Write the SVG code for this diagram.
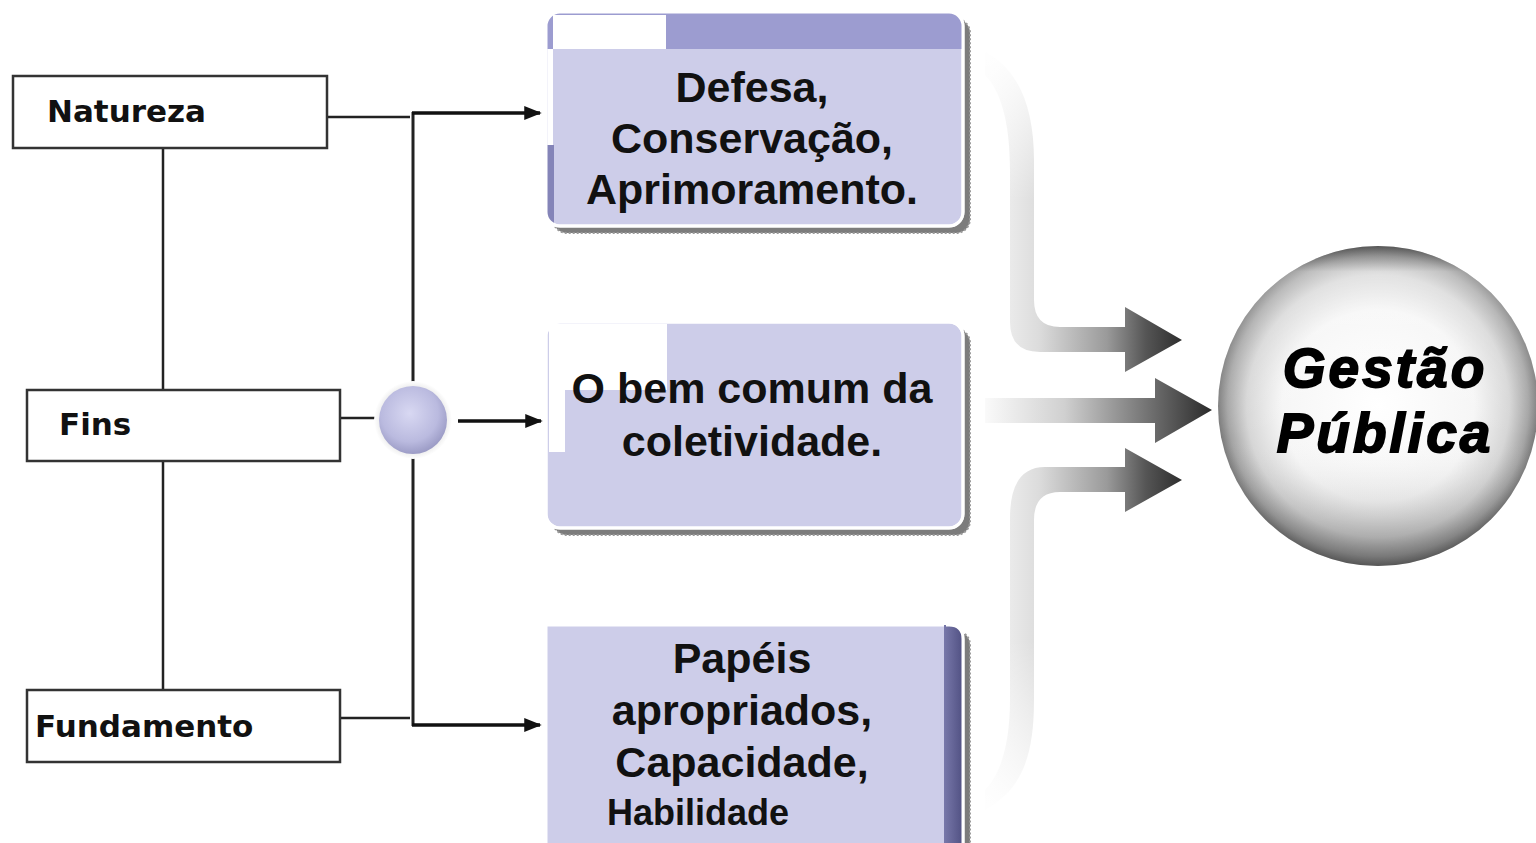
<svg xmlns="http://www.w3.org/2000/svg" width="1536" height="843" viewBox="0 0 1536 843">
<style>
.lbox{fill:#fff;stroke:#333;stroke-width:2.5}
.ltxt{font-family:"DejaVu Sans",Verdana,sans-serif;font-weight:bold;font-size:31px;fill:#111}
.btxt{font-family:"Liberation Sans",Arial,sans-serif;font-weight:bold;font-size:43px;fill:#111;text-anchor:middle}
.ln{stroke:#222;stroke-width:2.5;fill:none}
.arr{stroke:#111;stroke-width:3.5;fill:none;marker-end:url(#ah)}
.shadow{fill:#7c7c7c;stroke:#999;stroke-width:2;stroke-dasharray:2 2}
.box{fill:#cdcde9;stroke:#fff;stroke-width:3}
.band{fill:url(#bandg)}
.gtxt{font-family:"Liberation Sans",Arial,sans-serif;font-weight:bold;font-style:italic;font-size:55px;fill:#000;stroke:#000;stroke-width:1.8;letter-spacing:3px;text-anchor:middle}
</style>
<defs>
<marker id="ah" viewBox="0 0 10 10" refX="9" refY="5" markerWidth="5" markerHeight="5" orient="auto" markerUnits="strokeWidth">
<path d="M0,1 L10,5 L0,9 Z" fill="#111"/>
</marker>
<linearGradient id="bandg" gradientUnits="userSpaceOnUse" x1="990" y1="0" x2="1185" y2="0">
<stop offset="0" stop-color="#f4f4f4"/>
<stop offset="0.25" stop-color="#dcdcdc"/>
<stop offset="0.6" stop-color="#9a9a9a"/>
<stop offset="0.8" stop-color="#555"/>
<stop offset="1" stop-color="#2a2a2a"/>
</linearGradient>
<linearGradient id="bandm" gradientUnits="userSpaceOnUse" x1="985" y1="0" x2="1212" y2="0">
<stop offset="0" stop-color="#fafafa"/>
<stop offset="0.35" stop-color="#d0d0d0"/>
<stop offset="0.7" stop-color="#777"/>
<stop offset="1" stop-color="#2a2a2a"/>
</linearGradient>
<linearGradient id="vfadeTop" x1="0" y1="0" x2="0" y2="1">
<stop offset="0" stop-color="#fff" stop-opacity="1"/>
<stop offset="1" stop-color="#fff" stop-opacity="0"/>
</linearGradient>
<radialGradient id="sphere" cx="0.5" cy="0.5" r="0.5">
<stop offset="0" stop-color="#ffffff"/>
<stop offset="0.6" stop-color="#f6f6f6"/>
<stop offset="0.82" stop-color="#d6d6d6"/>
<stop offset="0.94" stop-color="#a4a4a4"/>
<stop offset="1" stop-color="#7a7a7a"/>
</radialGradient>
<linearGradient id="sphereShade" x1="0" y1="0" x2="0" y2="1">
<stop offset="0" stop-color="#000" stop-opacity="0.3"/>
<stop offset="0.08" stop-color="#fff" stop-opacity="0.3"/>
<stop offset="0.3" stop-color="#fff" stop-opacity="0.15"/>
<stop offset="0.6" stop-color="#fff" stop-opacity="0"/>
<stop offset="0.85" stop-color="#000" stop-opacity="0.12"/>
<stop offset="1" stop-color="#000" stop-opacity="0.3"/>
</linearGradient>
<radialGradient id="dot" cx="0.45" cy="0.4" r="0.6">
<stop offset="0" stop-color="#d8d8f2"/>
<stop offset="0.7" stop-color="#babadf"/>
<stop offset="1" stop-color="#9c9cc6"/>
</radialGradient>
<radialGradient id="glow" cx="0.5" cy="0.5" r="0.5">
<stop offset="0.8" stop-color="#e8e8e8"/>
<stop offset="1" stop-color="#fff"/>
</radialGradient>
<linearGradient id="darkstrip" x1="0" y1="0" x2="1" y2="0">
<stop offset="0" stop-color="#7878aa"/>
<stop offset="1" stop-color="#4e4e80"/>
</linearGradient>
<clipPath id="c1"><rect x="546" y="12" width="417" height="214" rx="14"/></clipPath>
<clipPath id="c2"><rect x="546" y="322" width="417" height="206" rx="14"/></clipPath>
<clipPath id="c3"><path d="M546,625 H949 Q963,625 963,639 V860 H546 Z"/></clipPath>
</defs>
<rect width="1536" height="843" fill="#fff"/>

<g id="connectors">
<line class="ln" x1="163" y1="148" x2="163" y2="390"/>
<line class="ln" x1="163" y1="461" x2="163" y2="700"/>
<line class="ln" x1="327" y1="117" x2="410" y2="117"/>
<line class="ln" x1="340" y1="418" x2="382" y2="418"/>
<line class="ln" x1="340" y1="718" x2="410" y2="718"/>
<line class="ln" x1="413" y1="112" x2="413" y2="726" style="stroke-width:3"/>
<line class="arr" x1="412" y1="113" x2="540" y2="113"/>
<line class="arr" x1="412" y1="725" x2="540" y2="725"/>
<line class="arr" x1="458" y1="421" x2="541" y2="421"/>
<path class="band" d="M985,52 C1020,70 1034,110 1034,160 V300 Q1034,327 1060,327 H1125 V307 L1182,340 L1125,372 V352 H1040 Q1010,352 1010,322 V170 C1010,120 1000,90 985,75 Z"/>
<path d="M975,45 H1045 V200 H975 Z" fill="url(#vfadeTop)"/>
<path fill="url(#bandm)" d="M985,398 H1155 V378 L1212,410 L1155,443 V423 H985 Z"/>
<path class="band" d="M985,790 C1000,775 1010,745 1010,700 V518 Q1010,467 1045,467 H1125 V448 L1182,480 L1125,512 V492 H1060 Q1034,492 1034,520 V700 C1034,760 1020,790 985,810 Z"/>
<path d="M975,640 H1045 V820 H975 Z" fill="url(#vfadeTop)" transform="rotate(180 1010 730)"/>
</g>

<g id="natureza">
<rect class="lbox" x="13" y="76" width="314" height="72"/>
<text class="ltxt" x="47" y="122">Natureza</text>
</g>
<g id="fins">
<rect class="lbox" x="27" y="390" width="313" height="71"/>
<text class="ltxt" x="59" y="435">Fins</text>
</g>
<g id="fundamento">
<rect class="lbox" x="27" y="690" width="313" height="72"/>
<text class="ltxt" x="35" y="737">Fundamento</text>
</g>

<g id="hub">
<circle cx="413" cy="420" r="39" fill="url(#glow)"/>
<circle cx="413" cy="420" r="34" fill="url(#dot)"/>
</g>

<g id="box1">
<rect class="shadow" x="553" y="19" width="417" height="214" rx="14"/>
<rect class="box" x="546" y="12" width="417" height="214" rx="14"/>
<g clip-path="url(#c1)">
<rect x="546" y="12" width="417" height="37" fill="#9c9cd0"/>
<rect x="553" y="15" width="113" height="34" fill="#fff"/>
<rect x="546" y="145" width="8" height="80" fill="#8484b8"/>
<rect x="548" y="49" width="5" height="96" fill="#fff"/>
</g>
<rect x="546" y="12" width="417" height="214" rx="14" fill="none" stroke="#fff" stroke-width="3"/>
<text class="btxt" x="752" y="102">Defesa,</text>
<text class="btxt" x="752" y="153">Conservação,</text>
<text class="btxt" x="752" y="204">Aprimoramento.</text>
</g>

<g id="box2">
<rect class="shadow" x="553" y="329" width="417" height="206" rx="14"/>
<rect class="box" x="546" y="322" width="417" height="206" rx="14"/>
<g clip-path="url(#c2)">
<rect x="553" y="324" width="114" height="66" fill="#fff"/>
<rect x="549" y="324" width="16" height="128" fill="#fff"/>
</g>
<rect x="546" y="322" width="417" height="206" rx="14" fill="none" stroke="#fff" stroke-width="3"/>
<text class="btxt" x="752" y="403">O bem comum da</text>
<text class="btxt" x="752" y="456">coletividade.</text>
</g>

<g id="box3">
<path class="shadow" d="M553,632 H956 Q970,632 970,646 V860 H553 Z"/>
<path class="box" d="M546,625 H949 Q963,625 963,639 V860 H546 Z"/>
<g clip-path="url(#c3)">
<rect x="944" y="625" width="20" height="240" fill="url(#darkstrip)"/>
</g>
<path d="M946,625 H949 Q963,625 963,639 V860" fill="none" stroke="#fff" stroke-width="3"/>
<text class="btxt" x="742" y="673">Papéis</text>
<text class="btxt" x="742" y="725">apropriados,</text>
<text class="btxt" x="742" y="777">Capacidade,</text>
<text class="btxt" x="607" y="825" style="text-anchor:start;font-size:36px">Habilidade</text>
</g>

<g id="gestao">
<circle cx="1378" cy="406" r="160" fill="url(#sphere)"/>
<circle cx="1378" cy="406" r="160" fill="url(#sphereShade)"/>
<text class="gtxt" x="1385" y="387">Gestão</text>
<text class="gtxt" x="1385" y="452">Pública</text>
</g>
</svg>
